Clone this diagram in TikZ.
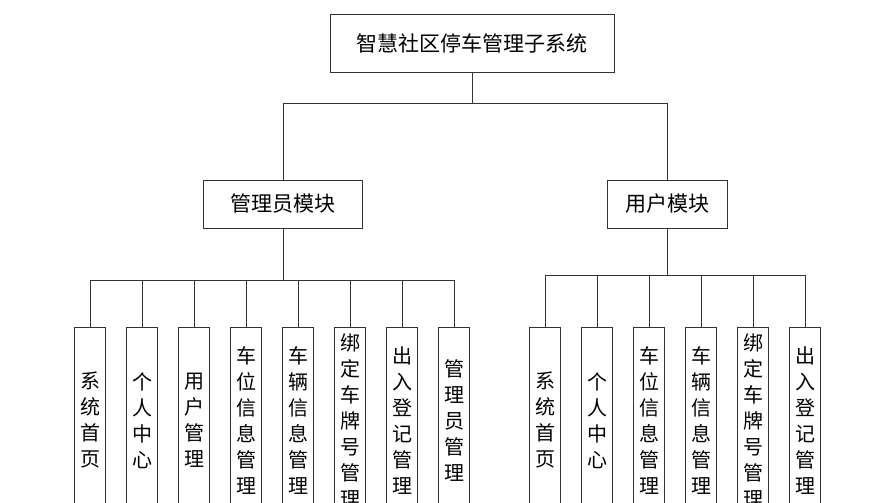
\documentclass[tikz,border=0pt]{standalone}
\usepackage{fontspec}
\newfontfamily\cjk{Noto Sans CJK SC}
\tikzset{
  box/.style={draw=black!80, line width=0.9pt, inner sep=0pt, font=\cjk\fontsize{21}{25}\selectfont},
  leaf/.style={draw=black!80, line width=0.9pt, inner sep=0pt, anchor=north, minimum width=31pt, minimum height=186pt, align=center, font=\cjk\fontsize{20}{26}\selectfont},
  link/.style={draw=black!80, line width=0.9pt}
}
\begin{document}
\begin{tikzpicture}[x=1pt, y=-1pt]
%
         \clip (0,0) rectangle (883,503);
         \fill [white] (0,0) rectangle (883,503);

         \node [box, minimum width=284pt, minimum height=58pt] (sys)   at (472,43)  {智慧社区停车管理子系统};
         \node [box, minimum width=159pt, minimum height=48pt] (admin) at (283,204) {管理员模块};
         \node [box, minimum width=120pt, minimum height=48pt] (user)  at (667,204) {用户模块};

         \coordinate (sm) at (472,103);
         \coordinate (am) at (283,280);
         \coordinate (um) at (667,275);

         % admin leaves
  		 \node [leaf] (a1) at (90,327)  {系\\统\\首\\页};
  		 \node [leaf] (a2) at (142,327) {个\\人\\中\\心};
  		 \node [leaf] (a3) at (194,327) {用\\户\\管\\理};
  		 \node [leaf] (a4) at (246,327) {车\\位\\信\\息\\管\\理};
  		 \node [leaf] (a5) at (298,327) {车\\辆\\信\\息\\管\\理};
  		 \node [leaf] (a6) at (350,327) {绑\\定\\车\\牌\\号\\管\\理};
  		 \node [leaf] (a7) at (402,327) {出\\入\\登\\记\\管\\理};
  		 \node [leaf] (a8) at (454,327) {管\\理\\员\\管\\理};

         % user leaves
  		 \node [leaf] (u1) at (545,327) {系\\统\\首\\页};
  		 \node [leaf] (u2) at (597,327) {个\\人\\中\\心};
  		 \node [leaf] (u3) at (649,327) {车\\位\\信\\息\\管\\理};
  		 \node [leaf] (u4) at (701,327) {车\\辆\\信\\息\\管\\理};
  		 \node [leaf] (u5) at (753,327) {绑\\定\\车\\牌\\号\\管\\理};
  		 \node [leaf] (u6) at (805,327) {出\\入\\登\\记\\管\\理};

  		 \draw [link] (sys.south) -- (sm);
  		 \draw [link] (sm) -| (admin.north);
  		 \draw [link] (sm) -| (user.north);

  		 \draw [link] (admin.south) -- (am);
  		 \draw [link] (am) -| (a1.north);
  		 \draw [link] (am) -| (a2.north);
  		 \draw [link] (am) -| (a3.north);
  		 \draw [link] (am) -| (a4.north);
  		 \draw [link] (am) -| (a5.north);
  		 \draw [link] (am) -| (a6.north);
  		 \draw [link] (am) -| (a7.north);
  		 \draw [link] (am) -| (a8.north);

  		 \draw [link] (user.south) -- (um);
  		 \draw [link] (um) -| (u1.north);
  		 \draw [link] (um) -| (u2.north);
  		 \draw [link] (um) -| (u3.north);
  		 \draw [link] (um) -| (u4.north);
  		 \draw [link] (um) -| (u5.north);
  		 \draw [link] (um) -| (u6.north);

        \end{tikzpicture}
\end{document}
